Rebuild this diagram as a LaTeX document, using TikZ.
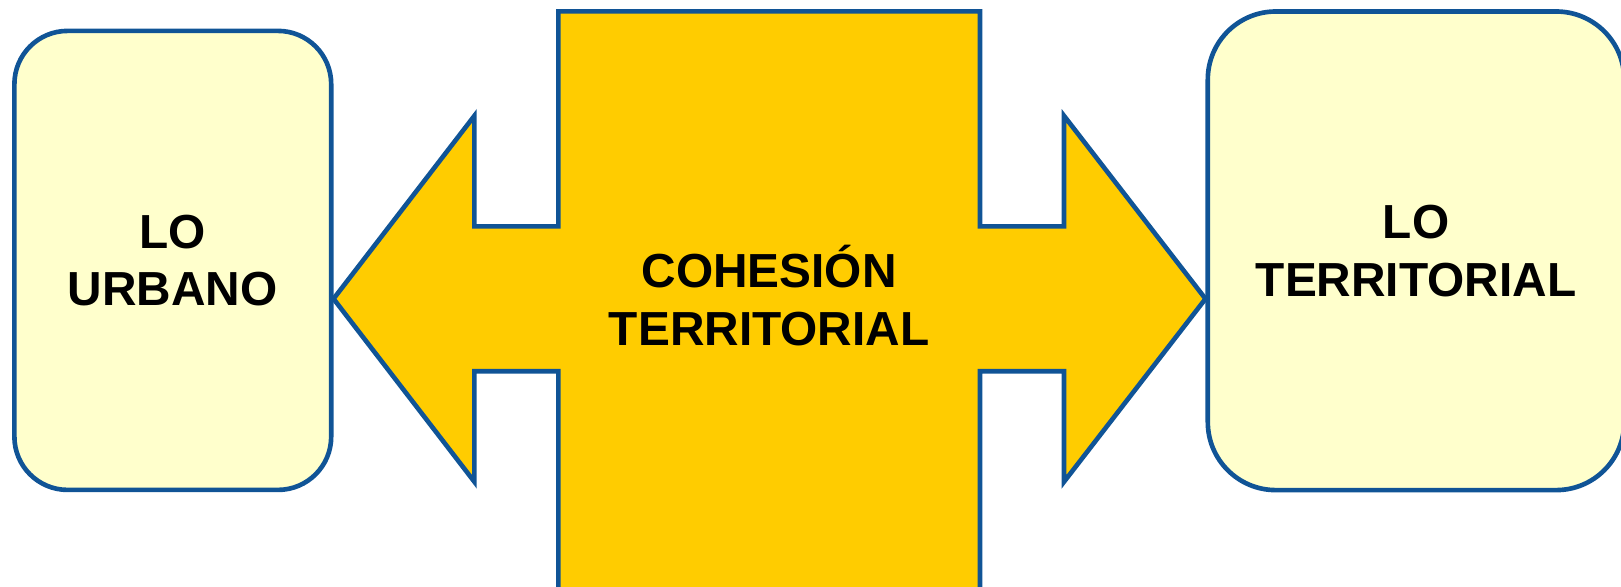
\documentclass[tikz,border=0pt]{standalone}
\usepackage{fontspec}
\setmainfont{Liberation Sans}
\usepackage{tikz}
\usetikzlibrary{positioning,calc}
\usepackage{xcolor}

\definecolor{edgeblue}{RGB}{16,84,150}
\definecolor{gold}{RGB}{255,204,0}
\definecolor{paleyellow}{RGB}{255,255,204}

\tikzset{
    bigtext/.style={align=center, font=\fontsize{34}{41}\selectfont\bfseries},
    sidebox/.style={bigtext, draw=edgeblue, line width=3.3pt, fill=paleyellow,
        rounded corners=#1, inner sep=0pt},
    crossarrow/.style={draw=edgeblue, line width=3.3pt, fill=gold}
}

\begin{document}
\begin{tikzpicture}
    \useasboundingbox (0, 0) rectangle (40.525, 14.65);

    % =========================================================
    % SIDE BOXES
    % =========================================================
    \node[sidebox=1.33cm, minimum width=7.92cm, minimum height=11.475cm] (urbano) at (4.32, 8.14) {LO\\URBANO};
    \node[sidebox=1.7cm, minimum width=10.41cm, minimum height=11.965cm] (territorial) at (35.4, 8.38) {LO\\TERRITORIAL};

    % =========================================================
    % DOUBLE ARROW / CROSS
    % =========================================================
    \coordinate (mid) at (19.23, 7.18);
    \draw[crossarrow] (urbano.east |- mid)
        -- (11.86, 11.755) -- (11.86, 8.99) -- (13.96, 8.99)
        -- (13.96, 14.365) -- (24.5, 14.365) -- (24.5, 8.99)
        -- (26.6, 8.99) -- (26.6, 11.755)
        -- (territorial.west |- mid)
        -- (26.6, 2.605) -- (26.6, 5.37) -- (24.5, 5.37)
        -- (24.5, -0.5) -- (13.96, -0.5) -- (13.96, 5.37)
        -- (11.86, 5.37) -- (11.86, 2.605) -- cycle;
    \node[bigtext] (cohesion) at (19.23, 7.26) {COHESIÓN\\TERRITORIAL};
\end{tikzpicture}
\end{document}
